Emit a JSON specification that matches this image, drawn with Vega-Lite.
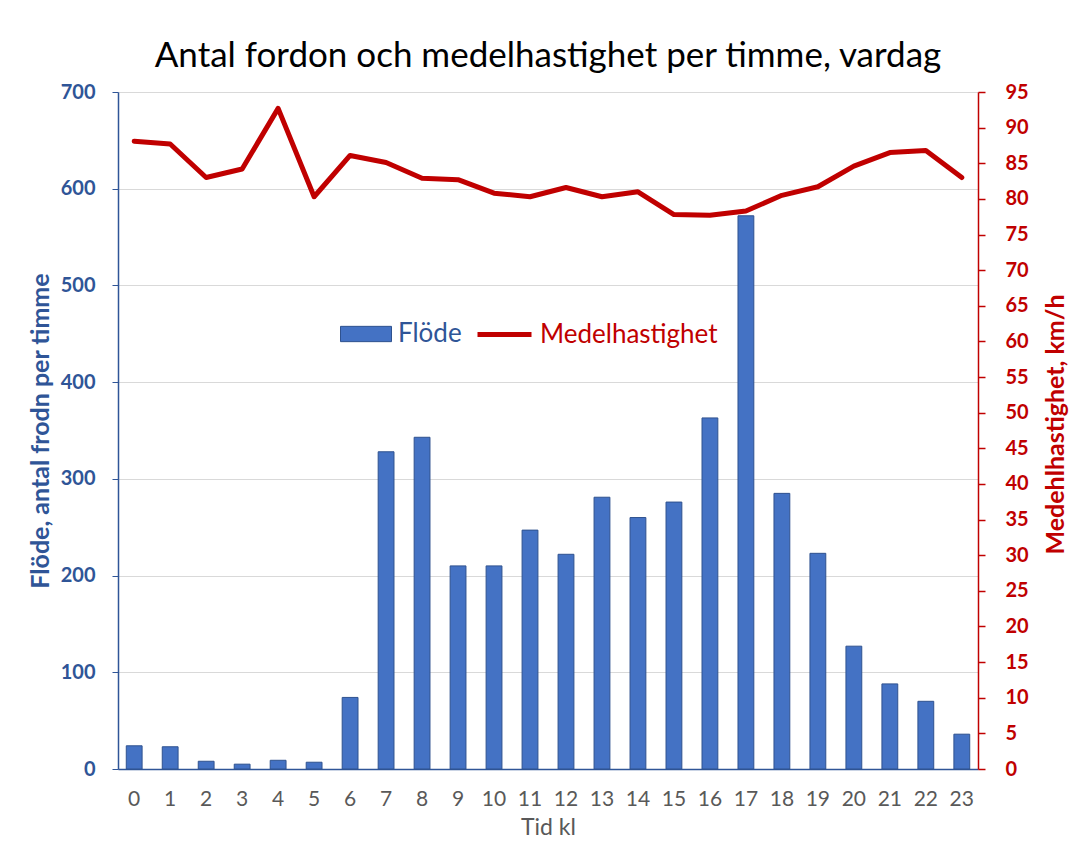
{
  "$schema": "https://vega.github.io/schema/vega-lite/v6.json",
  "width": 860,
  "height": 677,
  "autosize": {"type": "none"},
  "padding": {"left": 118, "top": 92, "right": 91, "bottom": 72},
  "background": "white",
  "config": {"font": "Lato", "view": {"stroke": null}},
  "title": {"text": "Antal fordon och medelhastighet per timme, vardag", "fontSize": 35, "font": "Lato", "fontWeight": "normal", "color": "#000000", "anchor": "middle", "offset": 8},
  "data": {"values": [
    {"hour": 0, "flode": 24, "speed": 88.1},
    {"hour": 1, "flode": 23, "speed": 87.7},
    {"hour": 2, "flode": 8, "speed": 83.0},
    {"hour": 3, "flode": 5, "speed": 84.2},
    {"hour": 4, "flode": 9, "speed": 92.7},
    {"hour": 5, "flode": 7, "speed": 80.3},
    {"hour": 6, "flode": 74, "speed": 86.1},
    {"hour": 7, "flode": 328, "speed": 85.1},
    {"hour": 8, "flode": 343, "speed": 82.9},
    {"hour": 9, "flode": 210, "speed": 82.7},
    {"hour": 10, "flode": 210, "speed": 80.8},
    {"hour": 11, "flode": 247, "speed": 80.3},
    {"hour": 12, "flode": 222, "speed": 81.6},
    {"hour": 13, "flode": 281, "speed": 80.3},
    {"hour": 14, "flode": 260, "speed": 81.0},
    {"hour": 15, "flode": 276, "speed": 77.8},
    {"hour": 16, "flode": 363, "speed": 77.7},
    {"hour": 17, "flode": 572, "speed": 78.3},
    {"hour": 18, "flode": 285, "speed": 80.5},
    {"hour": 19, "flode": 223, "speed": 81.7},
    {"hour": 20, "flode": 127, "speed": 84.6},
    {"hour": 21, "flode": 88, "speed": 86.5},
    {"hour": 22, "flode": 70, "speed": 86.8},
    {"hour": 23, "flode": 36, "speed": 83.0}
  ]},
  "encoding": {
    "x": {
      "field": "hour", "type": "ordinal", "sort": "ascending",
      "scale": {"paddingInner": 0.56, "paddingOuter": 0.23},
      "axis": {
        "title": "Tid kl", "labelAngle": 0, "labelFontSize": 21, "labelColor": "#595959",
        "labelPadding": 19, "ticks": false, "domainColor": "#2F5597", "domainWidth": 1.5,
        "titleFontSize": 23, "titleColor": "#595959", "titleFontWeight": "normal", "titlePadding": 7
      }
    }
  },
  "layer": [
    {
      "mark": {"type": "bar", "stroke": "#2F528F", "strokeWidth": 1},
      "encoding": {
        "y": {
          "field": "flode", "type": "quantitative",
          "scale": {"domain": [0, 700], "nice": false},
          "axis": {
            "orient": "left", "title": "Flöde, antal frodn per timme",
            "values": [0, 100, 200, 300, 400, 500, 600, 700],
            "labelFontSize": 20, "labelFontWeight": "bold", "labelColor": "#2F5597",
            "domainColor": "#2F5597", "domainWidth": 1.5, "tickColor": "#2F5597", "tickSize": 6,
            "labelPadding": 17,
            "grid": true, "gridColor": "#D9D9D9", "gridWidth": 1.2,
            "titleFontSize": 25, "titleFontWeight": "bold", "titleColor": "#2F5597", "titlePadding": 7
          }
        },
        "fill": {
          "datum": "Flöde",
          "scale": {"range": ["#4472C4"]},
          "legend": {
            "title": null, "orient": "none", "legendX": 222, "legendY": 216,
            "symbolType": "M-1,-0.3H1V0.3H-1Z", "symbolSize": 2601, "symbolStrokeColor": "#2F528F", "symbolStrokeWidth": 1,
            "labelFontSize": 26, "labelColor": "#2F5597", "labelOffset": 6, "labelLimit": 400, "padding": 0
          }
        }
      }
    },
    {
      "mark": {"type": "line", "color": "#C00000", "strokeWidth": 5, "strokeJoin": "round", "strokeCap": "round"},
      "encoding": {
        "y": {
          "field": "speed", "type": "quantitative",
          "scale": {"domain": [0, 95], "nice": false},
          "axis": {
            "orient": "right", "title": "Medehlhastighet,  km/h",
            "values": [0, 5, 10, 15, 20, 25, 30, 35, 40, 45, 50, 55, 60, 65, 70, 75, 80, 85, 90, 95],
            "labelFontSize": 20, "labelFontWeight": "bold", "labelColor": "#C00000",
            "domainColor": "#C00000", "domainWidth": 1.5, "tickColor": "#C00000", "tickSize": 7, "tickWidth": 1.5,
            "labelPadding": 20, "grid": false,
            "titleFontSize": 25, "titleFontWeight": "bold", "titleColor": "#C00000",
            "titleAngle": 270, "titleX": 77, "titleY": 332, "titleAlign": "center", "titleBaseline": "middle"
          }
        },
        "stroke": {
          "datum": "Medelhastighet",
          "scale": {"range": ["#C00000"]},
          "legend": {
            "title": null, "orient": "none", "legendX": 357, "legendY": 213,
            "symbolType": "M-1,0H1", "symbolSize": 2916, "symbolStrokeWidth": 5, "symbolStrokeColor": "#C00000",
            "labelFontSize": 26, "labelColor": "#C00000", "labelOffset": 6, "labelLimit": 400, "padding": 0
          }
        }
      }
    }
  ],
  "resolve": {"scale": {"y": "independent"}}
}
